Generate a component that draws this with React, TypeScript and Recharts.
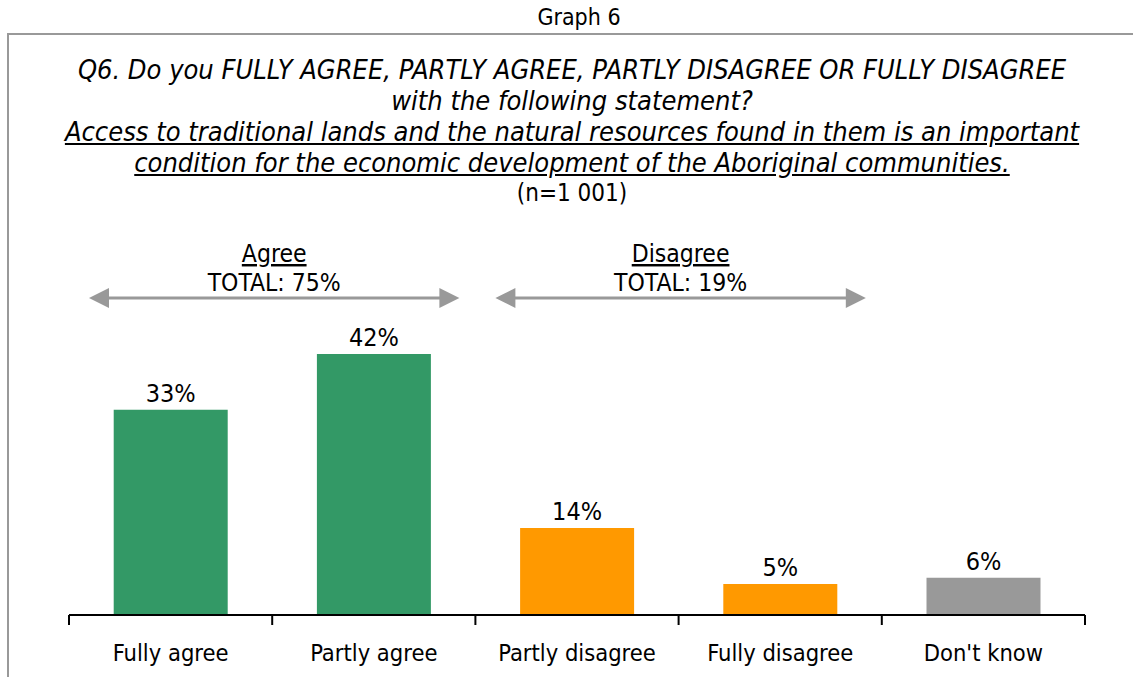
import React from 'react';
import { BarChart, Bar, XAxis, YAxis, Cell, LabelList } from 'recharts';

const categories = ['Fully agree', 'Partly agree', 'Partly disagree', 'Fully disagree', "Don't know"];
const values = [33, 42, 14, 5, 6];
const barColors = ['#339966', '#339966', '#ff9900', '#ff9900', '#999999'];

const groupNames = ['Agree', 'Disagree'];
const groupTotals = [75, 19];
const groupSpans = [[0, 1], [2, 3]];

const titleLines = [
  'Q6. Do you FULLY AGREE, PARTLY AGREE, PARTLY DISAGREE OR FULLY DISAGREE',
  'with the following statement?',
];
const statementLines = [
  'Access to traditional lands and the natural resources found in them is an important',
  'condition for the economic development of the Aboriginal communities.',
];

const W = 1133;
const H = 677;
const margin = { top: 242, right: 48, bottom: 22, left: 69 };
const axisY = H - margin.bottom - 40;
const band = (W - margin.left - margin.right) / categories.length;

const FONT = '"DejaVu Sans Condensed", "DejaVu Sans", sans-serif';

const data = categories.map((name, i) => ({ name, value: values[i] }));

// tick label + boundary tick marks (ticks sit between categories, not on them)
const BoundaryTick = (props: any) => {
  const { x, y, payload, index } = props;
  const left = x - band / 2;
  return (
    <g>
      <line x1={left} x2={left} y1={axisY} y2={axisY + 10} stroke="#000" strokeWidth={2} />
      {index === categories.length - 1 && (
        <line x1={x + band / 2} x2={x + band / 2} y1={axisY} y2={axisY + 10} stroke="#000" strokeWidth={2} />
      )}
      <text x={x} y={y} dy={38} textAnchor="middle" fontSize={23.5} fill="#000" fontFamily={FONT}>
        {payload.value}
      </text>
    </g>
  );
};

const GroupArrows = () => (
  <svg width={W} height={H} style={{ position: 'absolute', left: 0, top: 0, pointerEvents: 'none' }}>
    {groupNames.map((g, i) => {
      const x1 = margin.left + groupSpans[i][0] * band + 20;
      const x2 = margin.left + (groupSpans[i][1] + 1) * band - 16;
      const cx = (x1 + x2) / 2;
      const y = 298;
      return (
        <g key={g}>
          <line x1={x1 + 18} x2={x2 - 18} y1={y} y2={y} stroke="#999" strokeWidth={3} />
          <polygon points={`${x1},${y} ${x1 + 20},${y - 10} ${x1 + 20},${y + 10}`} fill="#999" />
          <polygon points={`${x2},${y} ${x2 - 20},${y - 10} ${x2 - 20},${y + 10}`} fill="#999" />
          <text x={cx} y={262} textAnchor="middle" fontSize={24.5} fontFamily={FONT} textDecoration="underline" fill="#000">
            {g}
          </text>
          <text x={cx} y={291} textAnchor="middle" fontSize={24.5} fontFamily={FONT} fill="#000">
            TOTAL: {groupTotals[i]}%
          </text>
        </g>
      );
    })}
  </svg>
);

export default function App() {
  return (
    <div style={{ position: 'absolute', left: 0, top: 0, width: W, height: H, background: '#fff', fontFamily: FONT, overflow: 'hidden' }}>
      <div style={{ position: 'absolute', left: 0, top: 4, width: 1158, textAlign: 'center', fontSize: 23, color: '#000' }}>
        Graph 6
      </div>
      <div style={{ position: 'absolute', left: 7, top: 33, right: 0, bottom: 0, borderTop: '2px solid #999', borderLeft: '2px solid #999' }} />
      <div style={{ position: 'absolute', left: 0, top: 54, width: 1144, textAlign: 'center', fontSize: 27, lineHeight: '31px', color: '#000' }}>
        {titleLines.map((t) => (
          <div key={t} style={{ fontStyle: 'italic' }}>{t}</div>
        ))}
        {statementLines.map((t) => (
          <div key={t} style={{ fontStyle: 'italic' }}>
            <span style={{ textDecoration: 'underline' }}>{t}</span>
          </div>
        ))}
        <div style={{ fontSize: 24 }}>(n=1 001)</div>
      </div>
      <div style={{ position: 'absolute', left: 0, top: 0 }}>
        <BarChart width={W} height={H} data={data} margin={margin} barCategoryGap="22%">
          <YAxis hide domain={[0, 60]} />
          <XAxis
            dataKey="name"
            height={40}
            axisLine={{ stroke: '#000', strokeWidth: 2 }}
            tickLine={false}
            interval={0}
            tick={<BoundaryTick />}
          />
          <Bar dataKey="value" isAnimationActive={false}>
            {data.map((d, i) => (
              <Cell key={d.name} fill={barColors[i]} />
            ))}
            <LabelList
              dataKey="value"
              position="top"
              offset={8}
              formatter={(v: any) => `${v}%`}
              style={{ fontSize: 25, fill: '#000', fontFamily: FONT }}
            />
          </Bar>
        </BarChart>
      </div>
      <GroupArrows />
    </div>
  );
}
